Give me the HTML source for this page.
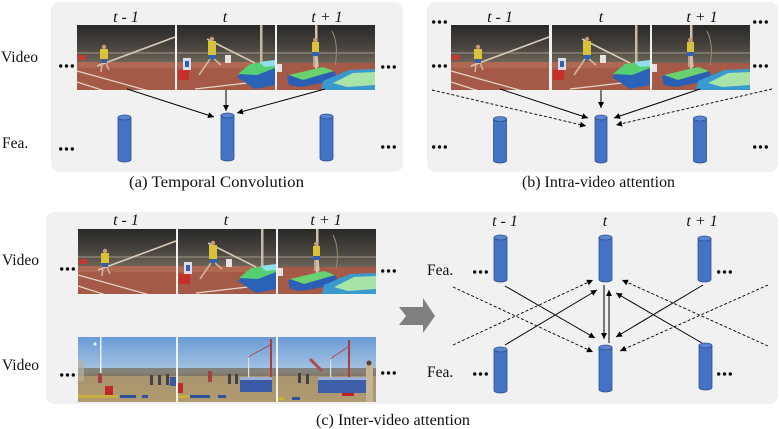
<!DOCTYPE html>
<html>
<head>
<meta charset="utf-8">
<style>
html,body{margin:0;padding:0;background:#fff;}
svg{display:block;}
text{font-family:"Liberation Serif","DejaVu Serif",serif;fill:#111;}
.it{font-style:italic;font-size:16px;}
.lb{font-size:15.5px;}
.cap{font-size:16px;}
</style>
</head>
<body>
<svg width="779" height="429" viewBox="0 0 779 429" xmlns="http://www.w3.org/2000/svg">
<defs>
  <clipPath id="fc"><rect x="0" y="0" width="98" height="65"/></clipPath>
  <linearGradient id="stad" x1="0" y1="0" x2="0" y2="1">
    <stop offset="0" stop-color="#2a2928"/>
    <stop offset="0.55" stop-color="#46423d"/>
    <stop offset="1" stop-color="#6c6459"/>
  </linearGradient>
  <linearGradient id="sky" x1="0" y1="0" x2="0" y2="1">
    <stop offset="0" stop-color="#6a9bd6"/>
    <stop offset="1" stop-color="#abc6e2"/>
  </linearGradient>
  <linearGradient id="grd" x1="0" y1="0" x2="0" y2="1">
    <stop offset="0" stop-color="#9c8a68"/>
    <stop offset="1" stop-color="#b09a70"/>
  </linearGradient>
  <marker id="ah" viewBox="0 0 10 10" refX="10" refY="5" markerWidth="7" markerHeight="6" markerUnits="userSpaceOnUse" orient="auto">
    <path d="M0,0 L10,5 L0,10 z" fill="#000"/>
  </marker>

  <!-- track frames -->
  <g id="f1">
    <g clip-path="url(#fc)">
      <rect width="98" height="65" fill="#a45a46"/>
      <rect width="98" height="37" fill="url(#stad)"/>
      <rect y="27" width="98" height="2" fill="#8c8376" opacity="0.7"/>
      <rect y="37" width="98" height="6" fill="#b06852"/>
      <line x1="0" y1="46" x2="72" y2="66" stroke="#e6d6cc" stroke-width="1.2"/>
      <line x1="0" y1="57" x2="28" y2="66" stroke="#e6d6cc" stroke-width="1.2"/>
      <line x1="20" y1="41" x2="98" y2="12" stroke="#d9cab8" stroke-width="1.6"/>
      <rect x="1" y="30" width="8" height="5" fill="#c53a30"/>
      <circle cx="27" cy="22" r="2.2" fill="#c89a78"/>
      <rect x="23" y="24" width="8" height="10" fill="#d9c23a"/>
      <rect x="24" y="34" width="6" height="4" fill="#3b5ca0"/>
      <line x1="25" y1="38" x2="24" y2="47" stroke="#d0b8a0" stroke-width="1.5"/>
      <line x1="29" y1="38" x2="32" y2="45" stroke="#d0b8a0" stroke-width="1.5"/>
    </g>
  </g>
  <g id="f2">
    <g clip-path="url(#fc)">
      <rect width="98" height="65" fill="#a45a46"/>
      <rect width="98" height="37" fill="url(#stad)"/>
      <rect y="27" width="98" height="2" fill="#8c8376" opacity="0.7"/>
      <rect y="37" width="98" height="6" fill="#b06852"/>
      <line x1="18" y1="64" x2="70" y2="58" stroke="#e6d6cc" stroke-width="1.2"/>
      <rect x="83" y="0" width="2.5" height="42" fill="#c9b9a2"/>
      <line x1="30" y1="14" x2="78" y2="38" stroke="#d9cab8" stroke-width="1.6"/>
      <polygon points="60,52 72,40 98,37 98,60 78,64" fill="#2a62b8"/>
      <polygon points="61,49 73,39 98,36 98,43 80,50" fill="#55cf72"/>
      <polygon points="82,37 98,35 98,41 88,42" fill="#8fe0e8"/>
      <rect x="6" y="33" width="8" height="12" fill="#dcdcec"/>
      <rect x="8" y="36" width="4" height="6" fill="#3060b0"/>
      <rect x="1" y="45" width="11" height="10" fill="#c63028"/>
      <rect x="48" y="30" width="6" height="8" fill="#e6e2e0"/>
      <circle cx="35" cy="14" r="2.2" fill="#c89a78"/>
      <rect x="31" y="16" width="8" height="14" fill="#d9c23a"/>
      <rect x="32" y="30" width="7" height="4" fill="#3060b0"/>
      <line x1="33" y1="34" x2="22" y2="50" stroke="#d0b8a0" stroke-width="1.6"/>
      <line x1="37" y1="34" x2="44" y2="40" stroke="#d0b8a0" stroke-width="1.6"/>
    </g>
  </g>
  <g id="f3">
    <g clip-path="url(#fc)">
      <rect width="98" height="65" fill="#a45a46"/>
      <rect width="98" height="38" fill="url(#stad)"/>
      <rect y="27" width="98" height="2" fill="#8c8376" opacity="0.7"/>
      <rect x="38" y="0" width="2.5" height="46" fill="#d2c2aa"/>
      <path d="M55,6 Q62,20 58,40" stroke="#9a8a70" stroke-width="1" fill="none"/>
      <polygon points="10,51 46,42 58,47 60,55 24,62 12,60" fill="#2a5fb5"/>
      <polygon points="12,50 46,42 57,46 26,55" fill="#6ad070"/>
      <polygon points="46,56 72,45 98,44 98,65 44,65" fill="#3a9ad0"/>
      <polygon points="56,58 76,48 98,47 98,60 70,62" fill="#a8e4a8"/>
      <circle cx="38" cy="15" r="2" fill="#c89a78"/>
      <rect x="35" y="17" width="7" height="10" fill="#d9c23a"/>
      <rect x="35" y="27" width="7" height="4" fill="#3060b0"/>
      <line x1="37" y1="31" x2="37" y2="42" stroke="#d0b8a0" stroke-width="1.5"/>
      <line x1="40" y1="31" x2="41" y2="42" stroke="#d0b8a0" stroke-width="1.5"/>
      <rect x="0" y="39" width="5" height="8" fill="#e6e2e0"/>
    </g>
  </g>

  <!-- field frames -->
  <g id="g1">
    <g clip-path="url(#fc)">
      <rect width="98" height="65" fill="url(#grd)"/>
      <rect width="98" height="36" fill="url(#sky)"/>
      <rect y="31" width="98" height="8" fill="#7d7668" opacity="0.85"/>
      <rect x="22" y="0" width="1.5" height="36" fill="#e8eef4"/>
      <circle cx="17" cy="7" r="1.5" fill="#fff"/>
      <rect x="0" y="24" width="6" height="20" fill="#b8b0a0" opacity="0.7"/>
      <rect x="20" y="37" width="4" height="9" fill="#a04040"/>
      <rect x="27" y="49" width="8" height="9" fill="#c02828"/>
      <rect x="72" y="38" width="3" height="10" fill="#404048"/>
      <rect x="80" y="38" width="3" height="10" fill="#404048"/>
      <rect x="88" y="37" width="3" height="11" fill="#404048"/>
      <rect x="92" y="40" width="6" height="9" fill="#3a5aa0"/>
      <rect x="0" y="58" width="40" height="3" fill="#c8b040"/>
      <rect x="42" y="58" width="16" height="3" fill="#3050a0"/>
      <rect x="64" y="58" width="6" height="3" fill="#3050a0"/>
    </g>
  </g>
  <g id="g2">
    <g clip-path="url(#fc)">
      <rect width="98" height="65" fill="url(#grd)"/>
      <rect width="98" height="36" fill="url(#sky)"/>
      <rect y="31" width="98" height="8" fill="#7d7668" opacity="0.85"/>
      <rect x="92" y="2" width="2" height="50" fill="#b03a3a"/>
      <rect x="70" y="18" width="1.2" height="26" fill="#e0e0e8"/>
      <line x1="70" y1="20" x2="92" y2="8" stroke="#b03a3a" stroke-width="0.8"/>
      <rect x="62" y="42" width="32" height="13" fill="#3a5aa8"/>
      <rect x="62" y="40" width="32" height="3" fill="#9ab0d8"/>
      <rect x="30" y="34" width="4" height="11" fill="#a04040"/>
      <rect x="50" y="37" width="3" height="10" fill="#404048"/>
      <rect x="57" y="37" width="3" height="10" fill="#404048"/>
      <rect x="0" y="46" width="5" height="10" fill="#c02828"/>
      <rect x="0" y="58" width="12" height="3" fill="#c8b040"/>
      <rect x="12" y="58" width="20" height="3" fill="#3050a0"/>
      <rect x="40" y="58" width="8" height="3" fill="#3050a0"/>
    </g>
  </g>
  <g id="g3">
    <g clip-path="url(#fc)">
      <rect width="98" height="65" fill="url(#grd)"/>
      <rect width="98" height="36" fill="url(#sky)"/>
      <rect y="31" width="98" height="8" fill="#7d7668" opacity="0.85"/>
      <rect x="70" y="3" width="2" height="55" fill="#b03a3a"/>
      <rect x="52" y="20" width="1.2" height="24" fill="#e0e0e8"/>
      <line x1="52" y1="22" x2="70" y2="10" stroke="#c03a3a" stroke-width="0.8"/>
      <rect x="40" y="42" width="48" height="14" fill="#3d5ea8"/>
      <rect x="40" y="40" width="48" height="3" fill="#9ab0d8"/>
      <line x1="32" y1="22" x2="44" y2="34" stroke="#b04a4a" stroke-width="3"/>
      <rect x="88" y="28" width="7" height="37" fill="#c4b496"/>
      <circle cx="91" cy="26" r="2.5" fill="#5a4030"/>
      <rect x="20" y="36" width="3" height="10" fill="#404048"/>
      <rect x="28" y="37" width="3" height="10" fill="#404048"/>
      <rect x="64" y="56" width="12" height="3" fill="#c02020"/>
      <rect x="0" y="60" width="6" height="3" fill="#c8b040"/>
      <rect x="14" y="60" width="8" height="3" fill="#3050a0"/>
    </g>
  </g>

  <g id="dots">
    <circle cx="1.7" cy="0" r="1.7" fill="#111"/>
    <circle cx="7.5" cy="0" r="1.7" fill="#111"/>
    <circle cx="13.3" cy="0" r="1.7" fill="#111"/>
  </g>
</defs>

<!-- Panel backgrounds -->
<rect x="51" y="2" width="352" height="170" rx="8" fill="#f1f1f1"/>
<rect x="427" y="2" width="351" height="170" rx="8" fill="#f1f1f1"/>
<rect x="46" y="212" width="732" height="192" rx="8" fill="#f1f1f1"/>

<!-- ============ (a) ============ -->
<text class="it" x="126" y="22" text-anchor="middle">t - 1</text>
<text class="it" x="225" y="22" text-anchor="middle">t</text>
<text class="it" x="327" y="22" text-anchor="middle">t + 1</text>
<text class="lb" x="1" y="62">Video</text>
<text class="lb" x="2" y="148">Fea.</text>
<use href="#f1" x="77" y="25"/>
<use href="#f2" x="177" y="25"/>
<use href="#f3" x="277" y="25"/>
<use href="#dots" x="59" y="66"/>
<use href="#dots" x="59" y="149"/>
<use href="#dots" x="381" y="67"/>
<use href="#dots" x="381" y="147"/>

<g fill="#4472c4" stroke="#2f528f" stroke-width="0.8">
  <path d="M118,117.5 L118,159.5 A6.5,2.5 0 0 0 131,159.5 L131,117.5 Z"/>
  <ellipse cx="124.5" cy="117.5" rx="6.5" ry="2.5" fill="#5a85d2"/>
  <path d="M221,115.5 L221,158.5 A6.5,2.5 0 0 0 234,158.5 L234,115.5 Z"/>
  <ellipse cx="227.5" cy="115.5" rx="6.5" ry="2.5" fill="#5a85d2"/>
  <path d="M320,116.5 L320,158.5 A6.5,2.5 0 0 0 333,158.5 L333,116.5 Z"/>
  <ellipse cx="326.5" cy="116.5" rx="6.5" ry="2.5" fill="#5a85d2"/>
</g>
<g stroke="#000" stroke-width="1" fill="none" marker-end="url(#ah)">
  <line x1="127" y1="89" x2="214" y2="117"/>
  <line x1="226" y1="90" x2="226" y2="111"/>
  <line x1="325" y1="89" x2="237" y2="113"/>
</g>
<text class="cap" x="216.5" y="187" text-anchor="middle" textLength="175" lengthAdjust="spacingAndGlyphs">(a) Temporal Convolution</text>

<!-- ============ (b) ============ -->
<text class="it" x="500" y="22" text-anchor="middle">t - 1</text>
<text class="it" x="601" y="22" text-anchor="middle">t</text>
<text class="it" x="702" y="22" text-anchor="middle">t + 1</text>
<use href="#f1" x="451" y="25"/>
<use href="#f2" x="552" y="25"/>
<use href="#f3" x="652" y="25"/>
<use href="#dots" x="432" y="22"/>
<use href="#dots" x="432" y="66"/>
<use href="#dots" x="432" y="147"/>
<use href="#dots" x="753" y="22"/>
<use href="#dots" x="753" y="66"/>
<use href="#dots" x="753" y="147"/>

<g fill="#4472c4" stroke="#2f528f" stroke-width="0.8">
  <path d="M493.5,119 L493.5,160.5 A6.5,2.5 0 0 0 506.5,160.5 L506.5,119 Z"/>
  <ellipse cx="500" cy="119" rx="6.5" ry="2.5" fill="#5a85d2"/>
  <path d="M595,117.5 L595,160.5 A6,2.5 0 0 0 607,160.5 L607,117.5 Z"/>
  <ellipse cx="601" cy="117.5" rx="6" ry="2.5" fill="#5a85d2"/>
  <path d="M693.5,118.5 L693.5,160.5 A6.5,2.5 0 0 0 706.5,160.5 L706.5,118.5 Z"/>
  <ellipse cx="700" cy="118.5" rx="6.5" ry="2.5" fill="#5a85d2"/>
</g>
<g stroke="#000" stroke-width="1" fill="none" marker-end="url(#ah)">
  <line x1="500" y1="89" x2="588" y2="118"/>
  <line x1="601" y1="90" x2="601" y2="108"/>
  <line x1="700" y1="89" x2="614" y2="118"/>
</g>
<g stroke="#000" stroke-width="0.9" fill="none" stroke-dasharray="3,2" marker-end="url(#ah)">
  <line x1="432" y1="90" x2="586" y2="126"/>
  <line x1="772" y1="89" x2="616" y2="125"/>
</g>
<text class="cap" x="598.5" y="187" text-anchor="middle" textLength="153" lengthAdjust="spacingAndGlyphs">(b) Intra-video attention</text>

<!-- ============ (c) ============ -->
<text class="it" x="126" y="225" text-anchor="middle">t - 1</text>
<text class="it" x="226" y="225" text-anchor="middle">t</text>
<text class="it" x="326" y="225" text-anchor="middle">t + 1</text>
<text class="lb" x="2" y="265">Video</text>
<text class="lb" x="2" y="370">Video</text>
<use href="#f1" x="78" y="229"/>
<use href="#f2" x="178" y="229"/>
<use href="#f3" x="278" y="229"/>
<use href="#g1" x="78" y="337"/>
<use href="#g2" x="178" y="337"/>
<use href="#g3" x="278" y="337"/>
<use href="#dots" x="60" y="269"/>
<use href="#dots" x="60" y="375"/>
<use href="#dots" x="381" y="271"/>
<use href="#dots" x="381" y="373"/>

<!-- gray arrow -->
<polygon points="399,307 423,307 423,298 435,316 423,333 423,325 399,325 406,316" fill="#808080"/>

<!-- right side -->
<text class="it" x="505" y="226" text-anchor="middle">t - 1</text>
<text class="it" x="605" y="226" text-anchor="middle">t</text>
<text class="it" x="702" y="226" text-anchor="middle">t + 1</text>
<text class="lb" x="427" y="275">Fea.</text>
<text class="lb" x="427" y="377">Fea.</text>
<use href="#dots" x="473" y="272"/>
<use href="#dots" x="473" y="374"/>
<use href="#dots" x="717" y="272"/>
<use href="#dots" x="717" y="374"/>

<g stroke="#000" stroke-width="1" fill="none" marker-end="url(#ah)">
  <line x1="505" y1="286" x2="595" y2="338"/>
  <line x1="505" y1="345" x2="597" y2="290"/>
  <line x1="604" y1="285" x2="604" y2="339"/>
  <line x1="609" y1="343" x2="609" y2="290"/>
  <line x1="703" y1="285" x2="616" y2="337"/>
  <line x1="702" y1="343" x2="616" y2="293"/>
</g>
<g stroke="#000" stroke-width="0.9" fill="none" stroke-dasharray="3,2" marker-end="url(#ah)">
  <line x1="453" y1="345" x2="593" y2="280"/>
  <line x1="453" y1="287" x2="593" y2="352"/>
  <line x1="768" y1="285" x2="620" y2="351"/>
  <line x1="768" y1="346" x2="622" y2="280"/>
</g>

<g fill="#4472c4" stroke="#2f528f" stroke-width="0.8">
  <path d="M494,237.5 L494,279.5 A6.5,2.5 0 0 0 507,279.5 L507,237.5 Z"/>
  <ellipse cx="500.5" cy="237.5" rx="6.5" ry="2.5" fill="#5a85d2"/>
  <path d="M599,237.5 L599,279.5 A6.5,2.5 0 0 0 612,279.5 L612,237.5 Z"/>
  <ellipse cx="605.5" cy="237.5" rx="6.5" ry="2.5" fill="#5a85d2"/>
  <path d="M698,238.5 L698,279.5 A6.5,2.5 0 0 0 711,279.5 L711,238.5 Z"/>
  <ellipse cx="704.5" cy="238.5" rx="6.5" ry="2.5" fill="#5a85d2"/>

  <path d="M494,349.5 L494,390.5 A6.5,2.5 0 0 0 507,390.5 L507,349.5 Z"/>
  <ellipse cx="500.5" cy="349.5" rx="6.5" ry="2.5" fill="#5a85d2"/>
  <path d="M599,347.5 L599,389.5 A6.5,2.5 0 0 0 612,389.5 L612,347.5 Z"/>
  <ellipse cx="605.5" cy="347.5" rx="6.5" ry="2.5" fill="#5a85d2"/>
  <path d="M699,345.5 L699,387.5 A6.5,2.5 0 0 0 712,387.5 L712,345.5 Z"/>
  <ellipse cx="705.5" cy="345.5" rx="6.5" ry="2.5" fill="#5a85d2"/>
</g>

<text class="cap" x="393" y="425" text-anchor="middle" textLength="154" lengthAdjust="spacingAndGlyphs">(c) Inter-video attention</text>
</svg>
</body>
</html>
